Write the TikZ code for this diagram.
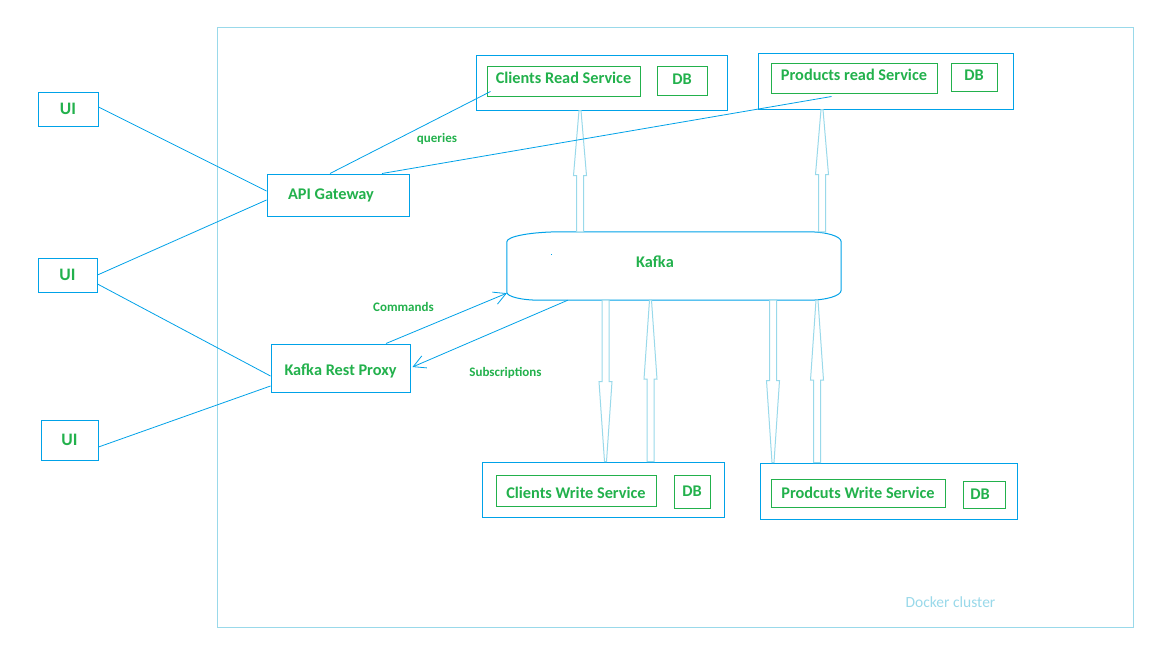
\documentclass[tikz,border=0pt]{standalone}
\usepackage{fontspec}
\setmainfont{Carlito}
\usetikzlibrary{arrows.meta,calc}
\definecolor{pblue}{HTML}{00A2E8}
\definecolor{pgreen}{HTML}{22B14C}
\definecolor{plight}{HTML}{99D9EA}
\tikzset{
  box/.style={draw=pblue, line width=1pt, inner sep=0pt},
  svc/.style={draw=pgreen, line width=1pt, inner sep=0pt},
  btext/.style={text=pgreen, font=\bfseries\fontsize{16.3}{18}\selectfont, text height=10.5pt, text depth=0pt},
  uitext/.style={text=pgreen, font=\bfseries\fontsize{17.5}{20}\selectfont, text height=11.5pt, text depth=0pt},
  lbl/.style={text=pgreen, font=\bfseries\fontsize{13}{15}\selectfont, inner sep=0pt, text height=8.4pt, text depth=0pt},
  conn/.style={draw=pblue, line width=0.8pt},
  barb/.style={-{Straight Barb[length=12pt,width=13pt]}},
  hollow/.style={draw=plight, line width=1pt, fill=white},
}
\newcommand\boxat[7]{\node[#2, minimum width={#5-#3}, minimum height={#6-#4}] (#1) at ({(#3+#5)/2},{(#4+#6)/2}) {#7};}
% hollow vertical arrow: #1 x, #2 from anchor, #3 to anchor, #4 head length
\newcommand\harrow[4]{%
  \draw[hollow] let \p0=(#1,0), \p1=(#2), \p2=(#3), \n1={ifthenelse(\y2>\y1,1,-1)} in
    ({\x0-3.5pt},\y1) -- ({\x0-3.5pt},{\y2-\n1*#4}) -- ({\x0-6.5pt},{\y2-\n1*#4})
    -- ({\x0-1pt},\y2) -- ({\x0+1pt},\y2) -- ({\x0+6.5pt},{\y2-\n1*#4})
    -- ({\x0+3.5pt},{\y2-\n1*#4}) -- ({\x0+3.5pt},\y1) -- cycle;}
\begin{document}
\begin{tikzpicture}[x=1pt,y=-1pt]
\fill[white] (0,0) rectangle (1152,648);
\useasboundingbox (0,0) rectangle (1152,648);

% cluster
\boxat{cluster}{draw=plight,line width=1pt,inner sep=0pt}{217}{27}{1133}{627}{}
\node[text=plight, font=\fontsize{15.5}{17}\selectfont, inner sep=0pt, text height=10pt, text depth=0pt] (ldc) at (950.5,602) {Docker cluster};

% UI boxes
\boxat{ui1}{box,uitext}{38}{92}{98}{126}{UI}
\boxat{ui2}{box,uitext}{38}{258}{97}{292}{UI}
\boxat{ui3}{box,uitext}{41}{420}{98}{460}{UI}

% gateway and proxy
\boxat{api}{box,btext,text depth=2pt}{267}{174}{409}{216}{API Gateway\kern14pt}
\boxat{krp}{box,btext,text height=15.5pt}{271}{344}{410}{392}{Kafka Rest Proxy}

% read services
\boxat{crs}{box}{476}{55}{727}{110}{}
\boxat{crsin}{svc,btext,text depth=5pt}{487}{66}{640}{96}{Clients Read Service}
\boxat{crsdb}{svc,btext,text depth=3pt}{657}{66}{707}{95}{DB}
\boxat{prs}{box}{758}{53}{1013}{109}{}
\boxat{prsin}{svc,btext,text depth=5pt}{771}{63}{937}{93}{Products read Service}
\boxat{prsdb}{svc,btext,text depth=3pt}{951}{63}{997}{91}{DB}

% write services
\boxat{cws}{box}{482}{462}{724}{517}{}
\boxat{cwsin}{svc,btext,text height=15.5pt}{496}{475}{656}{506}{Clients Write Service}
\boxat{cwsdb}{svc,btext}{674}{475}{710}{508}{DB}
\boxat{pws}{box}{760}{463}{1017}{519}{}
\boxat{pwsin}{svc,btext}{771}{479}{945}{507}{Prodcuts Write Service}
\boxat{pwsdb}{svc,btext}{963}{481}{1005}{508}{DB\kern8pt}

% kafka
\boxat{kafka}{inner sep=0pt,btext,text depth=7pt}{507}{232}{841}{300}{Kafka\kern38pt}
\draw[pblue, line width=1pt] let \p1=(kafka.south west), \p2=(kafka.north east) in
  ({\x1+55pt},\y2) -- ({\x2-33pt},\y2)
  arc[start angle=90,end angle=0,x radius=33pt,y radius=10pt]
  -- (\x2,{\y1+10pt})
  arc[start angle=0,end angle=-90,x radius=33pt,y radius=10pt]
  -- ({\x1+33pt},\y1)
  arc[start angle=270,end angle=180,x radius=33pt,y radius=8pt]
  -- (\x1,{\y2-10pt})
  arc[start angle=180,end angle=90,x radius=55pt,y radius=10pt] -- cycle;
\fill[pblue] ([xshift=44.5pt,yshift=-22.5pt]kafka.north west) rectangle ++(1pt,-1pt);

% hollow arrows
\harrow{580}{kafka.north}{crs.south}{65pt}
\harrow{822}{kafka.north}{prs.south}{65pt}
\harrow{605.5}{kafka.south}{cws.north}{80pt}
\harrow{650.5}{cws.north}{kafka.south}{79pt}
\harrow{773}{kafka.south}{pws.north}{82pt}
\harrow{817}{pws.north}{kafka.south}{80pt}

% connectors
\draw[conn] ([yshift=2pt]ui1.east) -- ([yshift=4pt]api.west);
\draw[conn] (ui2.east) -- ([yshift=-5pt]api.west);
\draw[conn] ([yshift=-9pt]ui2.east) -- ([yshift=-8pt]krp.west);
\draw[conn] ([yshift=-7pt]ui3.east) -- ([yshift=-18pt]krp.west);
\draw[conn] ([xshift=-8pt]api.north) -- ([xshift=4pt,yshift=5pt]crsin.south west);
\draw[conn] ([xshift=44pt]api.north) -- ([xshift=61pt,yshift=-3pt]prsin.south west);
\draw[conn,barb] ([xshift=45.5pt]krp.north) -- ([yshift=7pt]kafka.south west);
\draw[conn,barb] ([xshift=61pt]kafka.south west) -- ([xshift=2pt,yshift=1pt]krp.east);

% labels
\node[lbl] (lq) at (437,138.3) {queries};
\node[lbl] (lc) at (403.5,307.2) {Commands};
\node[lbl] (ls) at (505.5,372) {Subscriptions};
\end{tikzpicture}
\end{document}
